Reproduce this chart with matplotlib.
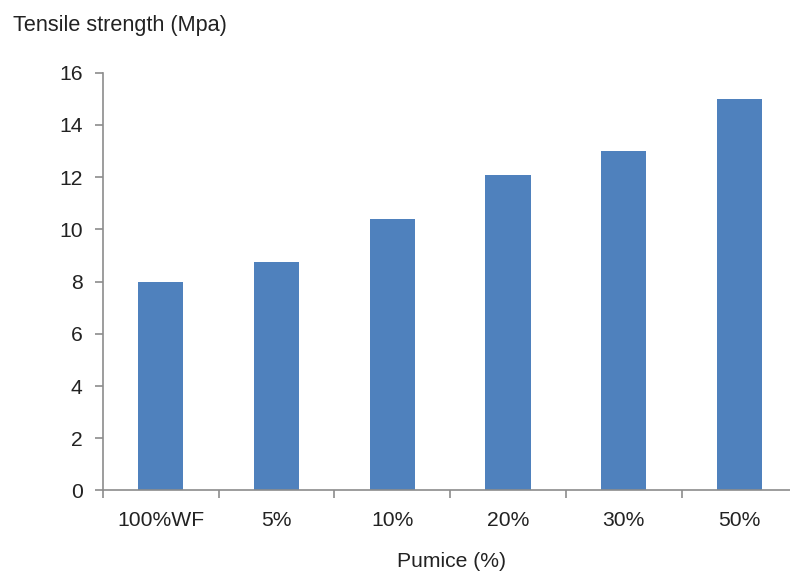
import matplotlib
matplotlib.use("Agg")
import matplotlib.pyplot as plt
import numpy as np

# Tensile strength of wood flour / pumice composites
categories = ["100%WF", "5%", "10%", "20%", "30%", "50%"]
tensile_strength = [8.0, 8.75, 10.4, 12.1, 13.0, 15.0]
y_ticks = [0, 2, 4, 6, 8, 10, 12, 14, 16]

plt.rcParams["font.family"] = ["Liberation Sans", "DejaVu Sans"]

text_color = "#222222"
axis_color = "#8c8c8c"
bar_color = "#4f81bd"

fig = plt.figure(figsize=(7.9, 5.72), dpi=100)
ax = fig.add_axes([0.130, 0.1425, 0.8795, 0.7304])

x = np.arange(len(categories))
ax.bar(x, tensile_strength, width=0.39, color=bar_color, zorder=2)

ax.set_xlim(-0.5, len(categories) - 0.5)
ax.set_ylim(0, 16)
ax.set_yticks(y_ticks)
ax.set_yticklabels([str(v) for v in y_ticks])

# category labels centred under bars, tick marks between categories
ax.set_xticks(x)
ax.set_xticklabels(categories)
ax.set_xticks(np.arange(-0.5, len(categories), 1.0), minor=True)
ax.tick_params(axis="x", which="major", length=0, pad=14.5,
               labelsize=15.2, labelcolor=text_color)
ax.tick_params(axis="x", which="minor", direction="out", length=6,
               width=1.2, color=axis_color)
ax.tick_params(axis="y", direction="out", length=5.5, width=1.2,
               color=axis_color, pad=9, labelsize=15.2, labelcolor=text_color)

for side in ("top", "right"):
    ax.spines[side].set_visible(False)
for side in ("left", "bottom"):
    ax.spines[side].set_color(axis_color)
    ax.spines[side].set_linewidth(1.2)

fig.text(0.016, 0.945, "Tensile strength (Mpa)", ha="left", va="baseline",
         fontsize=15.6, color=text_color)
fig.text(0.5718, 0.019, "Pumice (%)", ha="center", va="center",
         fontsize=15.2, color=text_color)

fig.savefig("out.png", dpi=100)
